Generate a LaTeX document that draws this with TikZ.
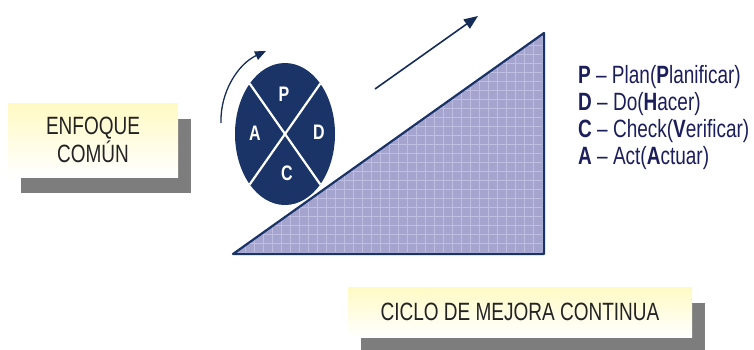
\documentclass[tikz,border=0pt]{standalone}
\usepackage{fontspec}
\setmainfont{Liberation Sans}
\usepackage{graphicx}
\usetikzlibrary{shapes.geometric, arrows.meta, shadows}

\definecolor{pdcanavy}{RGB}{26,52,104}
\definecolor{rampfill}{RGB}{164,164,206}
\definecolor{rampgrid}{RGB}{190,190,226}
\definecolor{legendink}{RGB}{28,30,92}
\definecolor{boxink}{RGB}{35,35,35}
\definecolor{noteyellow}{RGB}{255,250,195}
\definecolor{shadowgray}{RGB}{125,125,125}

\newcommand{\narrow}[1]{\scalebox{0.76}[1]{#1}}

\begin{document}
\begin{tikzpicture}[
    x=1pt, y=-1pt,
    notebox/.style={rectangle, top color=noteyellow, bottom color=white, text=boxink, align=center, inner sep=0pt,
        font=\fontsize{25}{28}\selectfont,
        drop shadow={shadow xshift=13pt, shadow yshift=-16pt, fill=shadowgray, opacity=1}},
    letter/.style={text=white, font=\fontsize{21}{21}\selectfont\bfseries},
    legend/.style={anchor=base west, text=legendink, inner sep=0pt, font=\fontsize{25}{27}\selectfont},
    arrow/.style={-{Triangle[length=14pt, width=11pt]}, line width=1.6pt, draw=pdcanavy!85!black}
]
    \useasboundingbox (0,0) rectangle (754,349);

    % Ramp
    \coordinate (rampL) at (233,254);
    \coordinate (rampT) at (544,33);
    \coordinate (rampR) at (544,254);
    \fill[rampfill] (rampL) -- (rampT) -- (rampR) -- cycle;
    \begin{scope}
        \clip (rampL) -- (rampT) -- (rampR) -- cycle;
        \foreach \gx in {236,245,...,545} \draw[rampgrid, line width=0.6pt] (\gx,30) -- (\gx,256);
        \foreach \gy in {36,45,...,256} \draw[rampgrid, line width=0.6pt] (230,\gy) -- (546,\gy);
    \end{scope}
    \draw[pdcanavy, line width=2.2pt, line join=round] (rampL) -- (rampT) -- (rampR) -- cycle;

    % PDCA wheel
    \node[ellipse, fill=pdcanavy, minimum width=100pt, minimum height=142pt, inner sep=0pt, outer sep=0pt] (wheel) at (285,134) {};
    \draw[white, line width=2.2pt] (wheel.125) -- (wheel.305);
    \draw[white, line width=2.2pt] (wheel.55) -- (wheel.235);
    \node[letter] (letP) at (284,94) {\narrow{P}};
    \node[letter] (letD) at (319,132) {\narrow{D}};
    \node[letter] (letC) at (287,173) {\narrow{C}};
    \node[letter] (letA) at (255,133) {\narrow{A}};

    % Arrows
    \coordinate (spinS) at (221,123);
    \coordinate (spinE) at (266,51);
    \draw[arrow, line width=1.3pt, -{Triangle[length=11pt, width=9pt]}] (spinS) .. controls (220,92) and (238,64) .. (spinE);
    \coordinate (riseS) at (375,89);
    \coordinate (riseE) at (478,16);
    \draw[arrow] (riseS) -- (riseE);

    % Boxes
    \node[notebox, minimum width=170pt, minimum height=74pt] (focus) at (93,140) {\narrow{ENFOQUE}\\\narrow{COMÚN}};
    \node[notebox, minimum width=344pt, minimum height=50pt] (ciclo) at (520,312) {\narrow{CICLO DE MEJORA CONTINUA}};

    % Legend
    \node[legend] (legP) at (578,83) {\narrow{\textbf{P} – Plan(\textbf{P}lanificar)}};
    \node[legend] (legD) at (578,110) {\narrow{\textbf{D} – Do(\textbf{H}acer)}};
    \node[legend] (legC) at (578,137) {\narrow{\textbf{C} – Check(\textbf{V}erificar)}};
    \node[legend] (legA) at (578,164) {\narrow{\textbf{A} – Act(\textbf{A}ctuar)}};
\end{tikzpicture}
\end{document}
